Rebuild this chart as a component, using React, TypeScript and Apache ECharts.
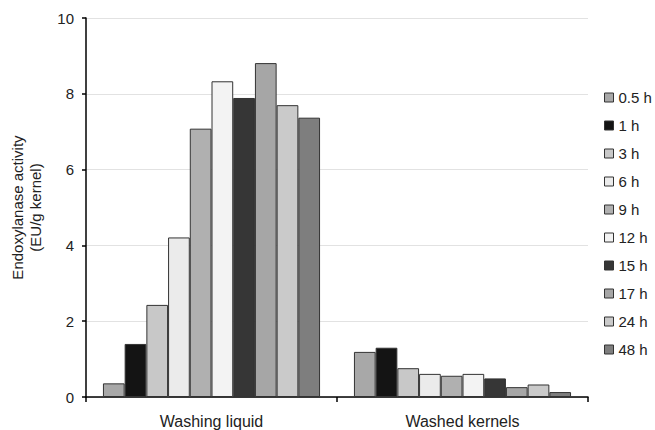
import React, { useEffect, useRef } from "react";
import * as echarts from "echarts";

const categories = ["Washing liquid", "Washed kernels"];
const seriesNames = ["0.5 h", "1 h", "3 h", "6 h", "9 h", "12 h", "15 h", "17 h", "24 h", "48 h"];
const washingLiquid = [0.36, 1.4, 2.43, 4.21, 7.08, 8.33, 7.89, 8.81, 7.7, 7.37];
const washedKernels = [1.19, 1.3, 0.76, 0.61, 0.56, 0.61, 0.49, 0.26, 0.33, 0.13];
const colors = ["#a8a8a8", "#141414", "#c8c8c8", "#ebebeb", "#b0b0b0", "#f3f3f3", "#363636", "#a6a6a6", "#cacaca", "#7e7e7e"];
const yTicks = [0, 2, 4, 6, 8, 10];

export default function App() {
  const ref = useRef<HTMLDivElement>(null);
  useEffect(() => {
    if (!ref.current) return;
    const chart = echarts.init(ref.current, undefined, { renderer: "svg" });
    const font = "Liberation Sans, Arial, sans-serif";
    chart.setOption({
      animation: false,
      backgroundColor: "#ffffff",
      textStyle: { fontFamily: font },
      grid: { left: 85, right: 67, top: 18, bottom: 33, containLabel: false },
      legend: {
        orient: "vertical",
        left: 599,
        top: 85,
        itemWidth: 9,
        itemHeight: 9,
        itemGap: 13,
        icon: "rect",
        textStyle: { fontSize: 15, color: "#222", fontFamily: font },
        itemStyle: { borderColor: "#333", borderWidth: 1 },
        data: seriesNames,
      },
      xAxis: {
        type: "category",
        data: categories,
        axisLine: { lineStyle: { color: "#000", width: 1.5 } },
        axisTick: { show: true, alignWithLabel: false, length: 5, lineStyle: { color: "#000", width: 1.5 } },
        axisLabel: { fontSize: 16, color: "#222", margin: 16, fontFamily: font },
      },
      yAxis: {
        type: "value",
        min: yTicks[0],
        max: yTicks[yTicks.length - 1],
        interval: 2,
        name: "Endoxylanase activity\n(EU/g kernel)",
        nameLocation: "middle",
        nameGap: 42,
        nameTextStyle: { fontSize: 15, color: "#222", lineHeight: 18, fontFamily: font },
        axisLine: { show: true, lineStyle: { color: "#000", width: 1.5 } },
        axisTick: { show: true, length: 4, lineStyle: { color: "#000", width: 1.5 } },
        axisLabel: { fontSize: 15, color: "#222", margin: 12, fontFamily: font },
        splitLine: { show: true, lineStyle: { color: "#e2e2e2", width: 1 } },
      },
      series: seriesNames.map((name, i) => ({
        name,
        type: "bar",
        barGap: "0%",
        barCategoryGap: "13.5%",
        itemStyle: { color: colors[i], borderColor: "#333", borderWidth: 1 },
        data: [washingLiquid[i], washedKernels[i]],
      })),
    });
    return () => chart.dispose();
  }, []);
  return <div ref={ref} style={{ width: 655, height: 430, position: "absolute", left: 0, top: 0 }} />;
}
